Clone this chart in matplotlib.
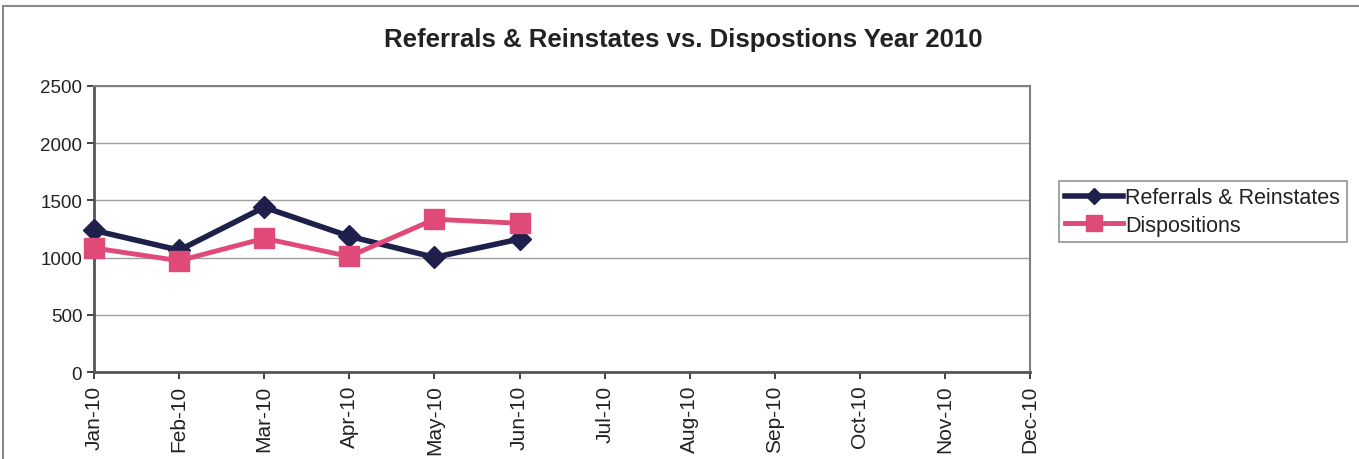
import numpy as np
import matplotlib.pyplot as plt
from matplotlib.patches import Rectangle

plt.rcParams['font.family'] = ['Liberation Sans', 'DejaVu Sans']

# Chart data
months = ['Jan-10', 'Feb-10', 'Mar-10', 'Apr-10', 'May-10', 'Jun-10',
          'Jul-10', 'Aug-10', 'Sep-10', 'Oct-10', 'Nov-10', 'Dec-10']
referrals = [1238, 1065, 1440, 1186, 1002, 1162]
dispositions = [1084, 973, 1168, 1010, 1335, 1300]

fig = plt.figure(figsize=(13.59, 4.60), dpi=100)
ax = fig.add_axes([0.0692, 0.189, 0.6888, 0.622])

x = np.arange(len(months))
ax.plot(x[:len(referrals)], referrals, color='#1e1f4b', lw=4, marker='D',
        ms=11, label='Referrals & Reinstates', zorder=3, clip_on=False)
ax.plot(x[:len(dispositions)], dispositions, color='#e04a78', lw=3.5, marker='s',
        ms=15, label='Dispositions', zorder=3, clip_on=False)

ax.set_xlim(0, len(months) - 1)
ax.set_ylim(0, 2500)
ax.set_yticks(np.arange(0, 2501, 500))
ax.set_xticks(x)
ax.set_xticklabels(months, rotation=90)
ax.tick_params(axis='both', colors='#222222', length=5, width=1.2)
ax.tick_params(axis='y', labelsize=13.5)
ax.tick_params(axis='x', labelsize=15, pad=4)
ax.grid(axis='y', color='#a0a0a0', lw=1)
ax.set_axisbelow(True)
for s in ax.spines.values():
    s.set_color('#808080')
    s.set_linewidth(1.5)
ax.spines['left'].set_color('#555555')
ax.spines['bottom'].set_color('#555555')
ax.spines['left'].set_linewidth(2)
ax.spines['bottom'].set_linewidth(2)

fig.suptitle('Referrals & Reinstates vs. Dispostions Year 2010', x=0.503,
             y=0.94, fontsize=18.5, fontweight='bold', color='#222222')

leg = fig.legend(loc='upper left', bbox_to_anchor=(0.779, 0.605), fontsize=15.5,
                 frameon=True, fancybox=False, edgecolor='#777777',
                 handlelength=2.7, handletextpad=0.1, borderpad=0.3,
                 labelspacing=0.3, borderaxespad=0, markerscale=0.75)
leg.get_frame().set_linewidth(1.2)
for t in leg.get_texts():
    t.set_color('#222222')

# outer chart border
fig.add_artist(Rectangle((0.002, -0.05), 1.1, 1.035, transform=fig.transFigure,
                         fill=False, edgecolor='#888888', lw=1.5))

fig.savefig('out.png', dpi=100, facecolor='white')
